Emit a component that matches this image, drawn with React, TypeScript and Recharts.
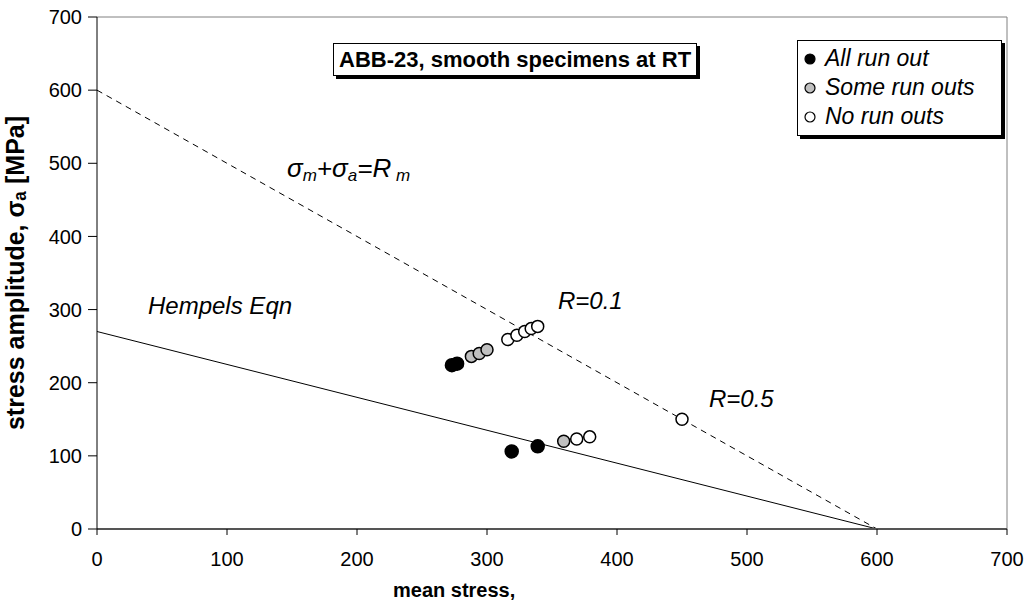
import React from 'react'
import { ComposedChart, Scatter, Line, XAxis, YAxis, ReferenceLine, Label } from 'recharts'

// tick values on both axes
const axisTicks = [0, 100, 200, 300, 400, 500, 600, 700]

// test results (mean stress, stress amplitude)
const allRunOut = [
  { x: 273, y: 224 },
  { x: 277, y: 226 },
  { x: 319, y: 106 },
  { x: 339, y: 113 },
]
const someRunOuts = [
  { x: 288, y: 236 },
  { x: 294, y: 240 },
  { x: 300, y: 245 },
  { x: 359, y: 120 },
]
const noRunOuts = [
  { x: 316, y: 259 },
  { x: 323, y: 265 },
  { x: 329, y: 270 },
  { x: 334, y: 274 },
  { x: 339, y: 277 },
  { x: 369, y: 123 },
  { x: 379, y: 126 },
  { x: 450, y: 150 },
]

// sigma_m + sigma_a = Rm (dashed) and Hempels equation (solid)
const goodmanLine = [
  { x: 0, y: 600 },
  { x: 600, y: 0 },
]
const hempelsLine = [
  { x: 0, y: 270 },
  { x: 600, y: 0 },
]

const legendItems = [
  { name: 'All run out', fill: '#000000' },
  { name: 'Some run outs', fill: '#c0c0c0' },
  { name: 'No run outs', fill: '#ffffff' },
]

const font = '"Liberation Sans", Arial, sans-serif'

const dot = (fill: string, r: number) => (props: any) => {
  const { cx, cy } = props
  if (cx == null || cy == null) return <g />
  return <circle cx={cx} cy={cy} r={r} fill={fill} stroke="#000" strokeWidth={1.5} />
}

const note: React.CSSProperties = {
  position: 'absolute',
  fontFamily: font,
  fontStyle: 'italic',
  fontSize: 24,
  color: '#000',
  whiteSpace: 'nowrap',
  lineHeight: 1,
}

const sub: React.CSSProperties = { fontSize: 17, verticalAlign: '-4px' }

export default function App() {
  return (
    <div style={{ position: 'absolute', left: 0, top: 0, width: 1029, height: 611, background: '#fff', fontFamily: font }}>
      <ComposedChart
        width={1029}
        height={611}
        margin={{ top: 17, right: 22, bottom: 52, left: 37 }}
      >
        <XAxis
          type="number"
          dataKey="x"
          domain={[0, 700]}
          ticks={axisTicks}
          interval={0}
          height={30}
          tickSize={6}
          tickMargin={17}
          stroke="#555"
          strokeWidth={2}
          tick={{ fill: '#000', fontSize: 20, fontFamily: font }}
          tickLine={{ stroke: '#000', strokeWidth: 1 }}
        />
        <YAxis
          type="number"
          dataKey="y"
          domain={[0, 700]}
          ticks={axisTicks}
          interval={0}
          width={60}
          tickSize={9}
          tickMargin={6}
          stroke="#000"
          tick={{ fill: '#000', fontSize: 20, fontFamily: font }}
        >
          <Label
            value="stress amplitude, σₐ [MPa]"
            angle={-90}
            position="insideLeft"
            offset={-22}
            style={{ textAnchor: 'middle', fontWeight: 'bold', fontSize: 25, fill: '#000', fontFamily: font }}
          />
        </YAxis>
        <ReferenceLine y={700} stroke="#808080" strokeWidth={1} />
        <ReferenceLine x={700} stroke="#808080" strokeWidth={1} />
        <Line
          data={goodmanLine}
          dataKey="y"
          type="linear"
          stroke="#000"
          strokeWidth={1}
          strokeDasharray="6 5"
          dot={false}
          activeDot={false}
          isAnimationActive={false}
        />
        <Line
          data={hempelsLine}
          dataKey="y"
          type="linear"
          stroke="#000"
          strokeWidth={1}
          dot={false}
          activeDot={false}
          isAnimationActive={false}
        />
        <Scatter data={allRunOut} shape={dot('#000000', 6.5)} isAnimationActive={false} />
        <Scatter data={someRunOuts} shape={dot('#c0c0c0', 6)} isAnimationActive={false} />
        <Scatter data={noRunOuts} shape={dot('#ffffff', 6)} isAnimationActive={false} />
      </ComposedChart>

      <div style={{ position: 'absolute', left: 393, top: 580, fontWeight: 'bold', fontSize: 20, lineHeight: 1 }}>
        mean stress,
      </div>

      {/* title box */}
      <div
        style={{
          position: 'absolute',
          left: 333,
          top: 43,
          padding: '5px 5px 4px 5px',
          border: '1px solid #000',
          background: '#fff',
          boxShadow: '3px 3px 0 #000',
          fontWeight: 'bold',
          fontSize: 22,
          lineHeight: 1,
          whiteSpace: 'nowrap',
        }}
      >
        ABB-23, smooth specimens at RT
      </div>

      {/* legend */}
      <div
        style={{
          position: 'absolute',
          left: 797,
          top: 40,
          width: 198,
          padding: '3px 0 4px 5px',
          border: '1px solid #000',
          background: '#fff',
          boxShadow: '3px 3px 0 #000',
        }}
      >
        {legendItems.map((item) => (
          <div key={item.name} style={{ display: 'flex', alignItems: 'center', height: 29 }}>
            <svg width={14} height={14} style={{ marginRight: 8 }}>
              <circle cx={7} cy={7} r={5} fill={item.fill} stroke="#000" strokeWidth={1.2} />
            </svg>
            <span style={{ fontStyle: 'italic', fontSize: 23 }}>{item.name}</span>
          </div>
        ))}
      </div>

      <div style={{ ...note, left: 287, top: 155, fontSize: 26 }}>
        σ<span style={sub}>m</span>+σ<span style={sub}>a</span>=R<span style={sub}> m</span>
      </div>
      <div style={{ ...note, left: 148, top: 294 }}>Hempels Eqn</div>
      <div style={{ ...note, left: 558, top: 289 }}>R=0.1</div>
      <div style={{ ...note, left: 709, top: 387 }}>R=0.5</div>
    </div>
  )
}
